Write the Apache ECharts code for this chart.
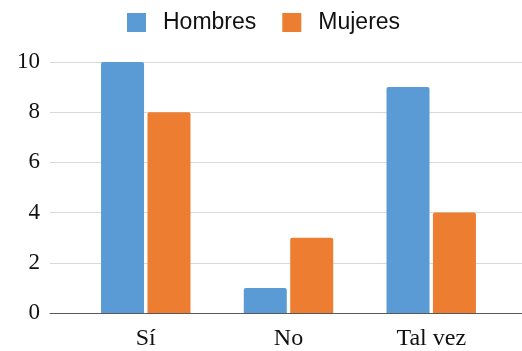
<!DOCTYPE html>
<html>
<head>
<meta charset="utf-8">
<script src="https://cdn.jsdelivr.net/npm/echarts@6/dist/echarts.min.js"></script>
<style>
  html, body { margin: 0; padding: 0; background: #fff; }
  #chart { width: 522px; height: 351px; }
</style>
</head>
<body>
<div id="chart"></div>
<script>
const categories = ['Sí', 'No', 'Tal vez']
const hombres = [10, 1, 9]
const mujeres = [8, 3, 4]
const yTicks = [0, 2, 4, 6, 8, 10]

const toPoints = (arr) => arr.map((v, i) => [i, v])

let myChart = echarts.init(document.getElementById('chart'))
let option = {
  animation: false,
  legend: {
    left: 122,
    top: 6,
    itemWidth: 19,
    itemHeight: 19,
    itemGap: 26,
    icon: 'rect',
    textStyle: {
      fontFamily: 'Liberation Sans',
      fontSize: 23,
      color: '#111',
      padding: [0, 0, 0, 12],
    },
    data: ['Hombres', 'Mujeres'],
  },
  grid: {
    left: 50,
    right: 0,
    top: 62,
    bottom: 36,
  },
  xAxis: {
    type: 'value',
    min: -0.671,
    max: 2.636,
    splitLine: { show: false },
    axisTick: { show: false },
    axisLine: { show: true, lineStyle: { color: '#595959', width: 1 } },
    axisLabel: {
      customValues: [0, 1, 2],
      formatter: (v) => categories[Math.round(v)],
      fontFamily: 'Liberation Serif',
      fontSize: 24,
      color: '#111',
      margin: 14,
    },
  },
  yAxis: {
    type: 'value',
    min: yTicks[0],
    max: yTicks[yTicks.length - 1],
    interval: 2,
    axisLine: { show: false },
    axisTick: { show: false },
    splitLine: { lineStyle: { color: '#d9d9d9', width: 1 } },
    axisLabel: {
      fontFamily: 'Liberation Serif',
      fontSize: 23,
      color: '#111',
      margin: 10,
    },
  },
  series: [
    {
      name: 'Hombres',
      type: 'bar',
      barWidth: 43,
      barGap: '8%',
      itemStyle: { color: '#5b9bd5', borderRadius: [2, 2, 0, 0] },
      data: toPoints(hombres),
    },
    {
      name: 'Mujeres',
      type: 'bar',
      barWidth: 43,
      barGap: '8%',
      itemStyle: { color: '#ed7d31', borderRadius: [2, 2, 0, 0] },
      data: toPoints(mujeres),
    },
  ],
}
option && myChart.setOption(option)
</script>
</body>
</html>
